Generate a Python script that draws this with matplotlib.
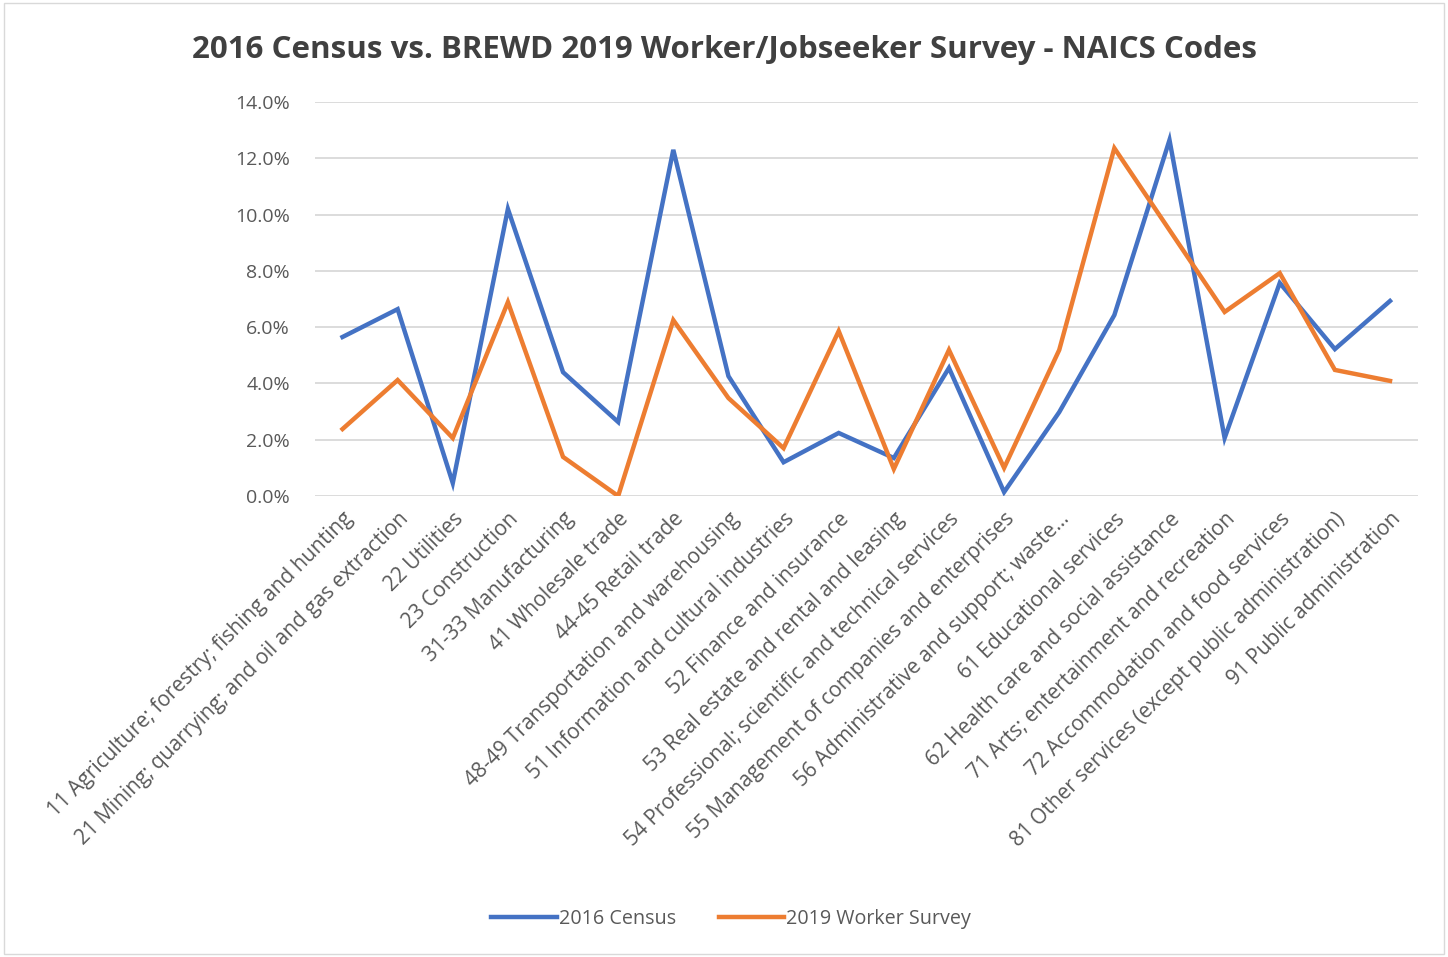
import matplotlib
matplotlib.use("Agg")
import matplotlib.pyplot as plt
from matplotlib.ticker import FuncFormatter

# categories (NAICS)
categories = [
    "11 Agriculture; forestry; fishing and hunting",
    "21 Mining; quarrying; and oil and gas extraction",
    "22 Utilities",
    "23 Construction",
    "31-33 Manufacturing",
    "41 Wholesale trade",
    "44-45 Retail trade",
    "48-49 Transportation and warehousing",
    "51 Information and cultural industries",
    "52 Finance and insurance",
    "53 Real estate and rental and leasing",
    "54 Professional; scientific and technical services",
    "55 Management of companies and enterprises",
    "56 Administrative and support; waste\u2026",
    "61 Educational services",
    "62 Health care and social assistance",
    "71 Arts; entertainment and recreation",
    "72 Accommodation and food services",
    "81 Other services (except public administration)",
    "91 Public administration",
]

census_2016 = [5.65, 6.64, 0.46, 10.2, 4.4, 2.63, 12.3, 4.26, 1.2, 2.24,
               1.35, 4.55, 0.14, 2.98, 6.43, 12.65, 2.06, 7.57, 5.22, 6.93]
survey_2019 = [2.38, 4.12, 2.06, 6.89, 1.39, 0.0, 6.25, 3.48, 1.7, 5.86,
               0.96, 5.19, 1.0, 5.19, 12.36, 9.45, 6.54, 7.92, 4.48, 4.09]

blue = "#4472C4"
orange = "#ED7D31"
grey = "#595959"

plt.rcParams['font.family'] = ['Open Sans', 'DejaVu Sans']

fig = plt.figure(figsize=(14.48, 9.57), dpi=100)
ax = fig.add_axes([0.2175, 0.4817, 0.7615, 0.4117])

x = list(range(len(categories)))
ax.plot(x, [v / 100 for v in census_2016], color=blue, lw=3.2,
        label="2016 Census", solid_joinstyle="miter")
ax.plot(x, [v / 100 for v in survey_2019], color=orange, lw=3.2,
        label="2019 Worker Survey", solid_joinstyle="miter")

ax.set_xlim(-0.5, len(categories) - 0.5)
ax.set_ylim(0, 0.14)
ax.set_yticks([i * 0.02 for i in range(8)])
ax.yaxis.set_major_formatter(FuncFormatter(lambda v, p: f"{v * 100:.1f}%"))
ax.grid(axis="y", color="#D9D9D9", lw=1.3)
ax.set_axisbelow(True)
for s in ax.spines.values():
    s.set_visible(False)
ax.tick_params(axis="both", length=0, colors=grey)
ax.tick_params(axis="y", pad=18, labelsize=14)
ax.set_xticks(x)
ax.set_xticklabels(categories, rotation=45, ha="right", rotation_mode="anchor")
ax.tick_params(axis="x", pad=9, labelsize=15)

fig.text(0.5, 0.948, "2016 Census vs. BREWD 2019 Worker/Jobseeker Survey - NAICS Codes",
         ha="center", va="center", fontsize=22.5, fontweight="bold", color="#404040")

leg = fig.legend(loc="center", bbox_to_anchor=(0.505, 0.04), ncol=2, frameon=False,
                 fontsize=14.2, handlelength=3.3, handletextpad=0.1, columnspacing=2.2)
for t in leg.get_texts():
    t.set_color(grey)

# outer chart border
fig.patches.append(plt.Rectangle((0.003, 0.003), 0.994, 0.994, transform=fig.transFigure,
                                 fill=False, edgecolor="#D9D9D9", lw=1))

fig.savefig("out.png", dpi=100)
